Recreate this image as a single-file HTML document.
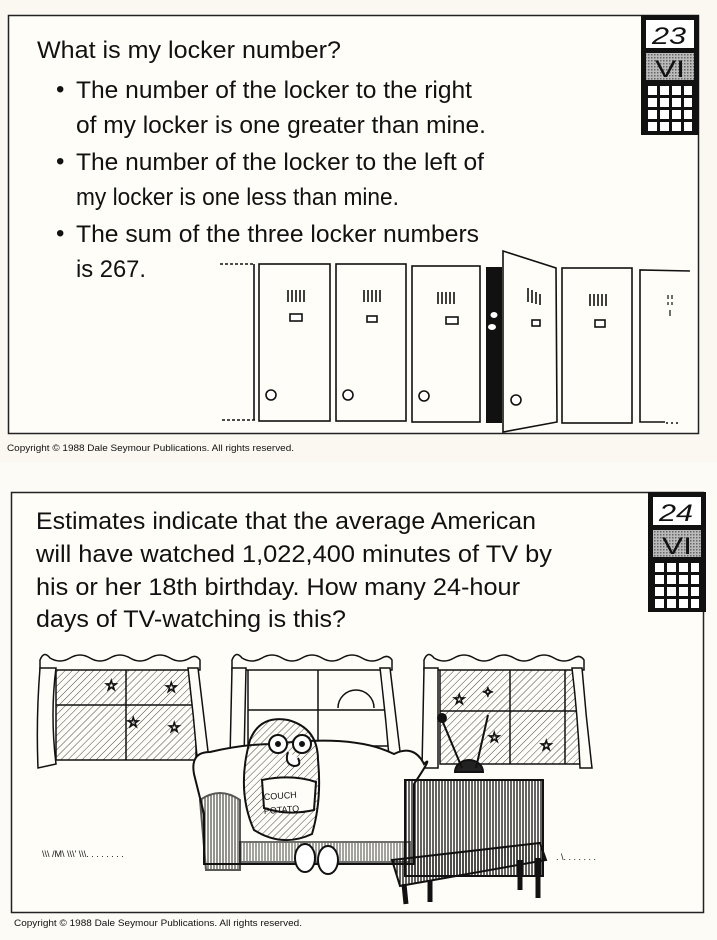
<!DOCTYPE html>
<html><head><meta charset="utf-8"><style>
html,body{margin:0;padding:0;background:#fbf8f1;}
svg{display:block;}
text{font-family:"Liberation Sans",Arial,sans-serif;fill:#111;}
</style></head><body>
<svg width="717" height="940" viewBox="0 0 717 940" xmlns="http://www.w3.org/2000/svg">
<defs>
<pattern id="hatch" width="5" height="5" patternUnits="userSpaceOnUse" patternTransform="rotate(45)">
<line x1="0" y1="0" x2="0" y2="5" stroke="#333" stroke-width="0.9"/></pattern>
<pattern id="vhatch" width="3" height="4" patternUnits="userSpaceOnUse">
<line x1="1" y1="0" x2="1" y2="4" stroke="#111" stroke-width="1.3"/></pattern>
<pattern id="dots" width="3" height="3" patternUnits="userSpaceOnUse">
<rect width="3" height="3" fill="#bbb"/><rect width="1.5" height="1.5" fill="#666"/></pattern>
</defs>
<rect width="717" height="940" fill="#fbf8f1"/>
<rect x="0" y="462" width="717" height="478" fill="#fdfbf6"/>

<!-- CARD 1 -->
<rect x="8.5" y="15.5" width="690" height="418" fill="#fffdf8" stroke="#222" stroke-width="1.5"/>
<g font-size="24">
<text x="37" y="58" textLength="304" lengthAdjust="spacingAndGlyphs">What is my locker number?</text>
<text x="56" y="97">•</text>
<text x="76" y="98" textLength="396" lengthAdjust="spacingAndGlyphs">The number of the locker to the right</text>
<text x="76" y="133" textLength="410" lengthAdjust="spacingAndGlyphs">of my locker is one greater than mine.</text>
<text x="56" y="169">•</text>
<text x="76" y="170" textLength="408" lengthAdjust="spacingAndGlyphs">The number of the locker to the left of</text>
<text x="76" y="205" textLength="323" lengthAdjust="spacingAndGlyphs">my locker is one less than mine.</text>
<text x="56" y="241">•</text>
<text x="76" y="242" textLength="403" lengthAdjust="spacingAndGlyphs">The sum of the three locker numbers</text>
<text x="76" y="277" textLength="70" lengthAdjust="spacingAndGlyphs">is 267.</text>
</g>
<!-- badge 23 -->
<rect x="641" y="15" width="58" height="120" fill="#111"/>
<rect x="646" y="20" width="48" height="28" fill="#fff"/>
<text x="652" y="44" font-size="24" font-style="italic" textLength="34" lengthAdjust="spacingAndGlyphs">23</text>
<rect x="646" y="53" width="48" height="27" fill="url(#dots)"/>
<text x="655" y="77" font-size="24" font-family="Liberation Serif" textLength="30" lengthAdjust="spacingAndGlyphs" fill="#222">VI</text>
<g fill="#fff">
<rect x="648" y="86" width="9" height="9"/><rect x="660" y="86" width="9" height="9"/><rect x="672" y="86" width="9" height="9"/><rect x="684" y="86" width="8" height="9"/>
<rect x="648" y="98" width="9" height="9"/><rect x="660" y="98" width="9" height="9"/><rect x="672" y="98" width="9" height="9"/><rect x="684" y="98" width="8" height="9"/>
<rect x="648" y="110" width="9" height="9"/><rect x="660" y="110" width="9" height="9"/><rect x="672" y="110" width="9" height="9"/><rect x="684" y="110" width="8" height="9"/>
<rect x="648" y="122" width="9" height="9"/><rect x="660" y="122" width="9" height="9"/><rect x="672" y="122" width="9" height="9"/><rect x="684" y="122" width="8" height="9"/>
</g>
<!-- lockers -->
<g stroke="#111" stroke-width="1.6" fill="none">
<line x1="220" y1="264" x2="254" y2="264" stroke-dasharray="3 2"/>
<line x1="254" y1="264" x2="254" y2="420"/>
<line x1="222" y1="420" x2="256" y2="420" stroke-dasharray="3 2"/>
<rect x="259" y="264" width="71" height="157"/>
<rect x="336" y="264" width="70" height="157"/>
<rect x="412" y="266" width="68" height="156"/>
<polygon points="503,251 556,268 557,422 503,432"/>
<rect x="562" y="268" width="70" height="155"/>
<polyline points="690,271 640,270 640,422 665,422"/>
<line x1="666" y1="423" x2="680" y2="423" stroke-dasharray="2 3"/>
</g>
<rect x="486" y="267" width="16" height="156" fill="#111"/>
<ellipse cx="494" cy="315" rx="3.5" ry="3" fill="#fff"/><ellipse cx="492" cy="327" rx="4" ry="3" fill="#fff"/>
<g stroke="#111" stroke-width="1.6">
<path d="M288 290v12M292 290v12M296 290v12M300 290v12M304 290v12"/>
<path d="M364 290v12M368 290v12M372 290v12M376 290v12M380 290v12"/>
<path d="M438 292v12M442 292v12M446 292v12M450 292v12M454 292v12"/>
<path d="M528 288v14M532 290v13M536 292v12M540 294v11"/>
<path d="M590 294v12M594 294v12M598 294v12M602 294v12M606 294v12"/>
<path d="M668 295v4M672 295v4M668 302v3M672 302v3M670 310v6" stroke-width="1.2"/>
</g>
<g fill="#fff" stroke="#111" stroke-width="1.6">
<rect x="290" y="314" width="12" height="7"/><rect x="367" y="316" width="10" height="6"/><rect x="446" y="317" width="12" height="7"/>
<rect x="532" y="320" width="8" height="6"/><rect x="595" y="320" width="10" height="7"/>
<circle cx="271" cy="395" r="5"/><circle cx="348" cy="395" r="5"/><circle cx="424" cy="396" r="5"/><circle cx="516" cy="400" r="5"/>
</g>
<text x="7" y="451" font-size="9" textLength="287" lengthAdjust="spacingAndGlyphs">Copyright © 1988 Dale Seymour Publications. All rights reserved.</text>

<!-- CARD 2 -->
<rect x="11.5" y="492.5" width="692" height="420" fill="#fffdf8" stroke="#222" stroke-width="1.5"/>
<g font-size="24">
<text x="36" y="529" textLength="500" lengthAdjust="spacingAndGlyphs">Estimates indicate that the average American</text>
<text x="36" y="562" textLength="516" lengthAdjust="spacingAndGlyphs">will have watched 1,022,400 minutes of TV by</text>
<text x="36" y="595" textLength="484" lengthAdjust="spacingAndGlyphs">his or her 18th birthday.  How many 24-hour</text>
<text x="36" y="627" textLength="310" lengthAdjust="spacingAndGlyphs">days of TV-watching is this?</text>
</g>
<rect x="648" y="492" width="58" height="120" fill="#111"/>
<rect x="653" y="497" width="48" height="28" fill="#fff"/>
<text x="659" y="521" font-size="24" font-style="italic" textLength="34" lengthAdjust="spacingAndGlyphs">24</text>
<rect x="653" y="530" width="48" height="27" fill="url(#dots)"/>
<text x="662" y="554" font-size="24" font-family="Liberation Serif" textLength="30" lengthAdjust="spacingAndGlyphs" fill="#222">VI</text>
<g fill="#fff">
<rect x="655" y="563" width="9" height="9"/><rect x="667" y="563" width="9" height="9"/><rect x="679" y="563" width="9" height="9"/><rect x="691" y="563" width="8" height="9"/>
<rect x="655" y="575" width="9" height="9"/><rect x="667" y="575" width="9" height="9"/><rect x="679" y="575" width="9" height="9"/><rect x="691" y="575" width="8" height="9"/>
<rect x="655" y="587" width="9" height="9"/><rect x="667" y="587" width="9" height="9"/><rect x="679" y="587" width="9" height="9"/><rect x="691" y="587" width="8" height="9"/>
<rect x="655" y="599" width="9" height="9"/><rect x="667" y="599" width="9" height="9"/><rect x="679" y="599" width="9" height="9"/><rect x="691" y="599" width="8" height="9"/>
</g>
<!-- windows -->
<g stroke="#111" stroke-width="1.5">
<rect x="56" y="666" width="140" height="94" fill="url(#hatch)"/>
<rect x="248" y="666" width="140" height="80" fill="#fffdf8"/>
<rect x="440" y="668" width="140" height="96" fill="url(#hatch)"/>
<path d="M56 705h140M126 666v94M248 710h140M318 666v80M440 711h140M510 668v96M565 668v96" fill="none"/>
<path d="M40 660 q4-10 10-2 q10 6 20 0 q10 -6 20 0 q10 6 20 0 q10-6 20 0 q10 6 20 0 q10-6 20 0 q10 6 20 0 q6 -4 10 2 v10 H40z" fill="#fffdf8"/>
<path d="M232 660 q4-10 10-2 q10 6 20 0 q10 -6 20 0 q10 6 20 0 q10-6 20 0 q10 6 20 0 q10-6 20 0 q10 6 20 0 q6 -4 10 2 v10 H232z" fill="#fffdf8"/>
<path d="M424 660 q4-10 10-2 q10 6 20 0 q10 -6 20 0 q10 6 20 0 q10-6 20 0 q10 6 20 0 q10-6 20 0 q10 6 20 0 q6 -4 10 2 v10 H424z" fill="#fffdf8"/>
<path d="M40 668 q-4 50 -2 100 l18 -4 q-6-50 0-96z M198 668 q6 50 12 100 l-12 0 q-4-50-10-100z" fill="#fffdf8"/>
<path d="M232 668 l-2 90 h14 l2-90z M390 668 q6 50 12 100 h-12 q-4-50-10-100z" fill="#fffdf8"/>
<path d="M424 668 l-2 100 h16 l0-100z M582 668 q4 50 10 100 h-12 q-2-50-8-100z" fill="#fffdf8"/>
<path d="M338 708 a18 18 0 0 1 36 0" fill="none"/>
</g>
<g fill="#fff" stroke="#111" stroke-width="1.2" font-size="14">
<text x="105" y="690">☆</text><text x="165" y="692">☆</text><text x="127" y="727">☆</text><text x="168" y="732">☆</text>
<text x="453" y="704">☆</text><text x="482" y="697">✧</text><text x="488" y="742">☆</text><text x="540" y="750">☆</text>
</g>
<!-- couch -->
<g stroke="#111" stroke-width="2" fill="#fffdf8">
<path d="M210 752 q-20 0 -16 22 l10 40 v50 h210 v-80 q20-30 10-20 q-10 -20-30 -10 q-40-20-120-10 q-30 0-64 8z"/>
<path d="M200 800 q20-14 40 0 v70 h-34z" fill="url(#vhatch)" opacity="0.7"/>
<path d="M240 842 h170 v20 h-170z" fill="url(#vhatch)" opacity="0.6"/>
<path d="M250 740 q10-25 38-20 q30 8 30 40 q4 40 -6 74 q-30 14 -58 -4 q-18-40 -4-90z" fill="url(#hatch)"/>
<path d="M262 780 q30-6 54 2 l-2 28 q-26 6 -50 -2z" fill="#fffdf8"/>
<circle cx="278" cy="744" r="9" fill="#fff"/><circle cx="302" cy="744" r="9" fill="#fff"/>
<circle cx="278" cy="744" r="2" fill="#111"/><circle cx="302" cy="744" r="2" fill="#111"/>
<path d="M288 752 q-4 12 6 14 q8 0 4-8" fill="#fff"/>
<ellipse cx="305" cy="858" rx="10" ry="14" fill="#fff"/><ellipse cx="328" cy="860" rx="10" ry="14" fill="#fff"/>
<path d="M455 772 a14 12 0 0 1 28 0z" fill="#222"/>
<line x1="462" y1="768" x2="442" y2="720"/><line x1="476" y1="768" x2="488" y2="715"/>
<circle cx="442" cy="718" r="4" fill="#111"/>
<rect x="405" y="780" width="138" height="96" fill="url(#vhatch)"/>
<polygon points="392,860 540,843 546,860 400,886" fill="url(#vhatch)"/>
<path d="M404 884 l2 20 M430 880 v22 M520 860 v30 M538 858 v40" stroke-width="5"/>
</g>
<text x="264" y="800" font-size="9" transform="rotate(-4 264 800)">COUCH</text>
<text x="264" y="814" font-size="9" transform="rotate(-4 264 814)">POTATO</text>
<text x="42" y="857" font-size="9" fill="#222">\\\ /M\ \\\' \\\. . . . . . . .</text>
<text x="556" y="860" font-size="9" fill="#222">. \. . . . . . .</text>
<text x="14" y="926" font-size="9" textLength="288" lengthAdjust="spacingAndGlyphs">Copyright © 1988 Dale Seymour Publications. All rights reserved.</text>
</svg>
</body></html>
